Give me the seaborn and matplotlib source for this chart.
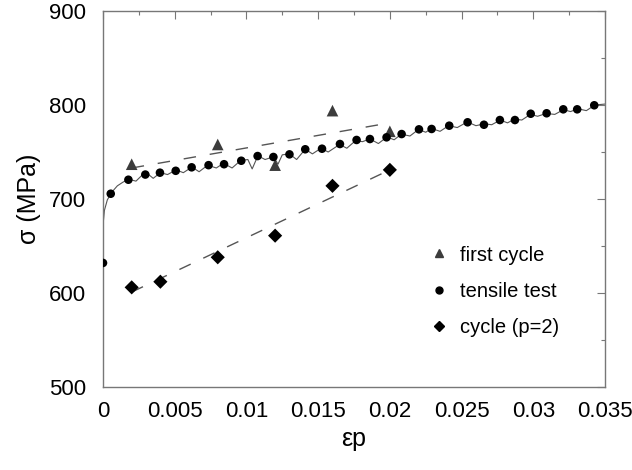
import matplotlib.pyplot as plt
import matplotlib.ticker as mticker
from matplotlib.lines import Line2D
import seaborn as sns
import pandas as pd

# first cycle (triangles)
first_x = [0.002, 0.008, 0.012, 0.016, 0.020]
first_y = [737, 758, 736, 794, 772]

# tensile test (circles)
tens_x = [0, 0.00054, 0.00177, 0.00295, 0.00397, 0.00507, 0.00618, 0.00736, 0.00844,
          0.00964, 0.01078, 0.01188, 0.0130, 0.0141, 0.01527, 0.01652, 0.01768, 0.01861,
          0.01977, 0.02082, 0.02203, 0.02291, 0.02414, 0.02542, 0.02656, 0.02767, 0.02872,
          0.02982, 0.03093, 0.03209, 0.03306, 0.03425]
tens_y = [632, 705.6, 720.5, 726, 728, 730, 733.7, 736, 737, 740.7, 745.7, 744.7, 747.5,
          752.9, 753.5, 758.5, 762.8, 763.8, 765.6, 769.1, 774.1, 774.5, 778, 781.6, 779,
          784, 784, 790.7, 791.2, 795.4, 795.4, 799.7]

# cycle p=2 (diamonds)
cyc_x = [0.002, 0.004, 0.008, 0.012, 0.016, 0.020]
cyc_y = [606, 612, 638, 661, 714, 731]

# serrated tensile curve
curve_x = [0.0, 0.0001, 0.0003, 0.0006, 0.0010, 0.0014, 0.0018, 0.0023, 0.0027, 0.0031,
           0.0035, 0.0040, 0.0045, 0.0051, 0.0056, 0.0062, 0.0067, 0.0073, 0.0079, 0.0084,
           0.0090, 0.0096, 0.0101, 0.0104, 0.0108, 0.0113, 0.0119, 0.0122, 0.0125, 0.0130,
           0.0135, 0.0141, 0.0146, 0.0152, 0.0157, 0.0165, 0.0170, 0.0176, 0.0181, 0.0186,
           0.0192, 0.0198, 0.0203, 0.0208, 0.0214, 0.0220, 0.0225, 0.0229, 0.0235, 0.0241,
           0.0247, 0.0254, 0.0260, 0.0266, 0.0271, 0.0277, 0.0282, 0.0287, 0.0292, 0.0298,
           0.0303, 0.0309, 0.0315, 0.0321, 0.0326, 0.0331, 0.0337, 0.0343, 0.0350]
curve_y = [672, 688, 699, 707, 714, 718, 721, 719, 725, 727,
           722, 728, 726, 731, 728, 734, 729, 736, 733, 738,
           733, 741, 742, 732, 746, 742, 745, 737, 747, 748,
           742, 753, 748, 754, 750, 758, 754, 762, 761, 764,
           759, 766, 763, 769, 767, 774, 771, 775, 772, 778,
           776, 782, 778, 780, 779, 784, 781, 785, 784, 790,
           788, 791, 790, 795, 793, 796, 794, 800, 801]

# dashed fit lines
fit1_x = [0.002, 0.020]
fit1_y = [733, 781]
fit2_x = [0.002, 0.020]
fit2_y = [601, 731]

sns.set_style("white")
plt.rcParams['font.family'] = ['Liberation Sans', 'DejaVu Sans']
plt.rcParams['text.color'] = 'black'
plt.rcParams['axes.labelcolor'] = 'black'

fig = plt.figure(figsize=(6.32, 4.70), dpi=100)
ax = fig.add_axes([103/632, 1-387/470, 502/632, 376/470])

sns.lineplot(x=curve_x, y=curve_y, ax=ax, sort=False, estimator=None,
             color='#555555', linewidth=0.8, zorder=2)
sns.lineplot(x=fit1_x, y=fit1_y, ax=ax, color='#555555', linewidth=1.0,
             zorder=2).lines[-1].set_dashes((9, 10))
sns.lineplot(x=fit2_x, y=fit2_y, ax=ax, color='#555555', linewidth=1.0,
             zorder=2).lines[-1].set_dashes((9, 10))

sns.scatterplot(x=first_x, y=first_y, ax=ax, marker='^', s=70, color='#3c3c3c',
                edgecolor='none', zorder=3)
sns.scatterplot(x=tens_x, y=tens_y, ax=ax, marker='o', s=38, color='black',
                edgecolor='none', zorder=4)
sns.scatterplot(x=cyc_x, y=cyc_y, ax=ax, marker='D', s=52, color='black',
                edgecolor='none', zorder=4)

ax.set_xlim(0, 0.035)
ax.set_ylim(500, 900)
ax.xaxis.set_major_locator(mticker.MultipleLocator(0.005))
ax.xaxis.set_minor_locator(mticker.MultipleLocator(0.0025))
ax.yaxis.set_major_locator(mticker.MultipleLocator(100))
ax.yaxis.set_minor_locator(mticker.MultipleLocator(50))
ax.xaxis.set_major_formatter(mticker.FuncFormatter(lambda v, p: f'{v:g}'))

ax.tick_params(which='both', direction='in', top=True, right=True, color='#777777',
               width=0.8, labelsize=16, labelcolor='black')
ax.tick_params(which='major', length=6)
ax.tick_params(which='minor', length=3)
ax.tick_params(axis='x', pad=10)
ax.tick_params(axis='y', pad=12)
for s in ax.spines.values():
    s.set_color('#777777')
    s.set_linewidth(1.0)

ax.set_xlabel('εp', fontsize=18, labelpad=4)
ax.set_ylabel('σ (MPa)', fontsize=18, labelpad=6)

handles = [
    Line2D([], [], linestyle='none', marker='^', markersize=6, color='#3c3c3c', label='first cycle'),
    Line2D([], [], linestyle='none', marker='o', markersize=5, color='black', label='tensile test'),
    Line2D([], [], linestyle='none', marker='D', markersize=5, color='black', label='cycle (p=2)'),
]
ax.legend(handles=handles, loc='center left', bbox_to_anchor=(0.61, 0.255),
          frameon=False, fontsize=14.5, handletextpad=0.4, labelspacing=0.85,
          handlelength=1.2)

fig.savefig('out.png', dpi=100)
